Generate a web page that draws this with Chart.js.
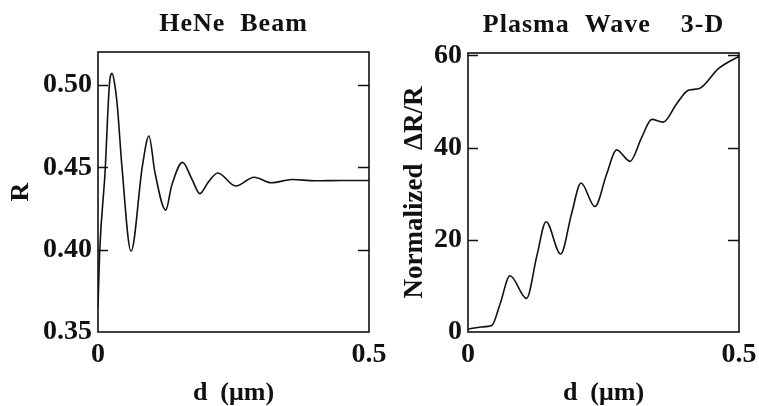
<!DOCTYPE html>
<html>
<head>
<meta charset="utf-8">
<script src="https://cdn.jsdelivr.net/npm/chart.js@4.4.1/dist/chart.umd.min.js"></script>
<style>
  body { margin: 0; background: #fff; }
  #wrap { position: relative; width: 759px; height: 406px; overflow: hidden; }
  .panel { position: absolute; top: 0; height: 406px; }
</style>
</head>
<body>
<div id="wrap">
  <div class="panel" style="left:0;width:400px"><canvas id="hene"></canvas></div>
  <div class="panel" style="left:380px;width:379px"><canvas id="plasma"></canvas></div>
</div>
<script>
// left panel: HeNe beam reflectivity vs depth
var heneD = [0, 0.003, 0.013, 0.021, 0.026, 0.031, 0.036, 0.044, 0.061, 0.082, 0.094, 0.105, 0.125, 0.136, 0.156, 0.173, 0.188, 0.2035, 0.221, 0.254, 0.288, 0.320, 0.358, 0.400, 0.450, 0.500];
var heneR = [0.365, 0.398, 0.447, 0.500, 0.507, 0.500, 0.486, 0.451, 0.399, 0.451, 0.469, 0.447, 0.424, 0.439, 0.453, 0.443, 0.434, 0.441, 0.4465, 0.4386, 0.444, 0.4406, 0.4426, 0.4418, 0.442, 0.442];
var heneYTicks = [0.35, 0.40, 0.45, 0.50];
var heneYLabels = ["0.35", "0.40", "0.45", "0.50"];

// right panel: plasma wave 3-D normalized dR/R
var plasmaD = [0, 0.025, 0.044, 0.059, 0.0775, 0.108, 0.127, 0.144, 0.171, 0.191, 0.2085, 0.234, 0.256, 0.274, 0.299, 0.3205, 0.339, 0.360, 0.385, 0.4065, 0.427, 0.462, 0.500];
var plasmaV = [0.6, 1.1, 1.4, 6.0, 12.2, 7.3, 16.5, 23.9, 16.9, 25.6, 32.3, 27.2, 34.3, 39.5, 37.0, 42.2, 46.1, 45.5, 49.5, 52.4, 52.8, 57.1, 59.8];
var plasmaYTicks = [0, 20, 40, 60];
var plasmaYLabels = ["0", "20", "40", "60"];

var xTicks = [0, 0.5];
var xLabels = ["0", "0.5"];

var tickFont = { family: "'Liberation Serif'", size: 28, weight: "bold" };

function points(xs, ys) {
  var out = [];
  for (var i in xs) {
    out.push({ x: xs[i], y: ys[i] });
  }
  return out;
}

// frame around the plot, short inward ticks, and the panel title
var framePlugin = {
  id: "frame",
  afterDraw: function(chart, args, opts) {
    var ctx = chart.ctx;
    var a = chart.chartArea;
    var ys = chart.scales.y;
    ctx.save();
    ctx.strokeStyle = "#111";
    ctx.lineWidth = 1.6;
    ctx.strokeRect(a.left, a.top, a.right - a.left, a.bottom - a.top);
    ctx.beginPath();
    ys.ticks.forEach(function(t) {
      var py = Math.round(ys.getPixelForValue(t.value)) + 0.5;
      if (py <= a.top + 2 || py >= a.bottom - 2) return;
      ctx.moveTo(a.left, py); ctx.lineTo(a.left + 10, py);
      ctx.moveTo(a.right, py); ctx.lineTo(a.right - 11, py);
    });
    ctx.lineWidth = 1.3;
    ctx.stroke();
    ctx.fillStyle = "#111";
    ctx.font = "bold " + opts.size + "px 'Liberation Serif'";
    ctx.letterSpacing = "1px";
    ctx.textAlign = "center";
    ctx.textBaseline = "middle";
    ctx.fillText(opts.text, (a.left + a.right) / 2 + (opts.dx || 0), opts.y);
    ctx.restore();
  }
};

function makeChart(id, xs, ys, yMin, yMax, yTicks, yLabels, yTitle, yTitleSize, yTitlePad, panelTitle, pad, yWidth) {
  var ctx = document.getElementById(id);
  return new Chart(ctx, {
    type: "line",
    data: {
      datasets: [{
        data: points(xs, ys),
        borderColor: "#111",
        borderWidth: 1.6,
        pointRadius: 0,
        fill: false,
        cubicInterpolationMode: "monotone"
      }]
    },
    options: {
      responsive: true,
      maintainAspectRatio: false,
      animation: false,
      layout: { padding: pad },
      plugins: {
        legend: { display: false },
        tooltip: { enabled: false },
        frame: panelTitle
      },
      scales: {
        x: {
          type: "linear",
          min: 0,
          max: 0.5,
          grid: { display: false, drawTicks: false },
          border: { display: false },
          afterBuildTicks: function(s) {
            s.ticks = xTicks.map(function(v) { return { value: v }; });
          },
          afterFit: function(s) {
            s.height = 74;
            s.paddingLeft = 0;
            s.paddingRight = 0;
          },
          ticks: {
            color: "#111",
            font: tickFont,
            padding: 6,
            maxRotation: 0,
            callback: function(v, i) { return xLabels[i]; }
          },
          title: {
            display: true,
            text: "d  (\u03bcm)",
            color: "#111",
            font: { family: "'Liberation Serif'", size: 26, weight: "bold", lineHeight: 1 },
            padding: { top: 0, bottom: 0 }
          }
        },
        y: {
          type: "linear",
          min: yMin,
          max: yMax,
          grid: { display: false, drawTicks: false },
          border: { display: false },
          afterBuildTicks: function(s) {
            s.ticks = yTicks.map(function(v) { return { value: v }; });
          },
          afterFit: function(s) {
            s.width = yWidth;
            s.paddingTop = 0;
            s.paddingBottom = 0;
          },
          ticks: {
            color: "#111",
            font: tickFont,
            padding: 6,
            callback: function(v, i) { return yLabels[i]; }
          },
          title: {
            display: true,
            text: yTitle,
            color: "#111",
            font: { family: "'Liberation Serif'", size: yTitleSize, weight: "bold", lineHeight: 1 },
            padding: { top: yTitlePad, bottom: 0 }
          }
        }
      }
    },
    plugins: [framePlugin]
  });
}

makeChart("hene", heneD, heneR, 0.35, 0.52, heneYTicks, heneYLabels, "R", 26, 8,
  { text: "HeNe  Beam", y: 24, size: 26 },
  { top: 52, right: 31, left: 0, bottom: 0 }, 98);

makeChart("plasma", plasmaD, plasmaV, 0, 60.5, plasmaYTicks, plasmaYLabels, "Normalized  \u0394R/R", 27, 22,
  { text: "Plasma  Wave    3-D", y: 25, size: 26 },
  { top: 53, right: 20, left: 0, bottom: 0 }, 88);
</script>
</body>
</html>
